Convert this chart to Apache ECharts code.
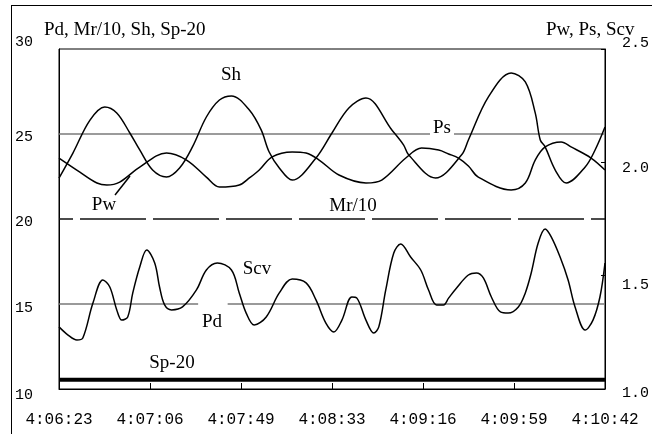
<!DOCTYPE html>
<html>
<head>
<meta charset="utf-8">
<script src="https://cdn.jsdelivr.net/npm/echarts@6/dist/echarts.min.js"></script>
<style>
  html, body { margin: 0; padding: 0; background: #fff; overflow: hidden; }
  #chart { width: 652px; height: 434px; }
  #frame {
    position: absolute; left: 11px; top: 5px; width: 641px; height: 429px;
    border-left: 1px solid #000; border-top: 1px solid #000;
    box-sizing: border-box; pointer-events: none;
  }
</style>
</head>
<body>
<div id="chart"></div>
<div id="frame"></div>
<script>
// x in seconds after 4:06:23
const tickLabels = ['4:06:23', '4:07:06', '4:07:49', '4:08:33', '4:09:16', '4:09:59', '4:10:42'];
const spanSeconds = 259;

// left axis: Sh
const shTime = [0, 6.6, 14.7, 21.7, 27.4, 33.6, 38.3, 44.4, 51.0, 57.2, 63.3, 69.9, 76.1, 81.8, 90.3, 95.9, 99.7, 104.5, 110.6, 121.9,
  129.5, 137.5, 145.6, 157.9, 163.5, 165.9, 178.6, 190.9, 194.2, 203.7, 214.5, 221.2, 225.9, 228.3, 230.6, 235.4, 240.6, 249.6, 254.3, 259];
const shValue = [22.41, 23.88, 25.82, 26.59, 26.24, 25.06, 24.06, 22.88, 22.47, 23.00, 24.24, 26.00, 27.00, 27.24, 26.41, 25.24, 23.94, 23.00, 22.29, 23.59,
  25.06, 26.53, 27.12, 25.24, 24.35, 23.76, 22.41, 23.76, 24.65, 27.18, 28.59, 28.06, 26.24, 24.65, 24.24, 22.88, 22.12, 23.06, 24.06, 25.41];

// right axis: Pw
const pwTime = [0, 9.9, 18.0, 22.7, 28.8, 38.3, 51.0, 60.5, 69.9, 76.1, 85.5, 90.3, 95.0, 101.1, 110.6, 117.2, 123.4, 132.8, 145.6, 153.1,
  164.5, 172.0, 180.1, 184.8, 189.5, 194.2, 198.9, 214.5, 221.2, 225.9, 230.6, 238.2, 242.9, 252.4, 259];
const pwValue = [2.019, 1.957, 1.909, 1.900, 1.913, 1.979, 2.041, 2.010, 1.935, 1.891, 1.900, 1.931, 1.966, 2.024, 2.046, 2.041, 2.010, 1.944, 1.909, 1.922,
  2.019, 2.063, 2.054, 2.037, 2.019, 1.984, 1.935, 1.878, 1.909, 2.010, 2.068, 2.090, 2.068, 2.019, 1.966];

// right axis: Scv
const scvTime = [0, 4.3, 8.5, 11.3, 16.1, 20.8, 24.1, 27.4, 29.8, 32.6, 35.0, 38.3, 41.6, 45.4, 47.7, 50.1, 53.4, 58.6, 65.2, 69.9,
  75.1, 81.8, 85.5, 88.8, 92.6, 98.3, 104.5, 110.6, 117.2, 121.9, 126.6, 130.4, 134.2, 138.9, 141.3, 145.6, 149.3, 151.7, 155.0, 158.8,
  162.1, 166.8, 171.6, 175.3, 179.1, 182.4, 184.8, 188.6, 194.2, 198.0, 201.3, 205.1, 209.4, 213.1, 217.9, 221.2, 224.0, 227.3, 230.6, 233.5,
  237.7, 241.5, 244.8, 249.6, 253.3, 256.6, 259];
const scvValue = [1.274, 1.238, 1.216, 1.225, 1.379, 1.481, 1.450, 1.349, 1.304, 1.318, 1.424, 1.538, 1.613, 1.556, 1.450, 1.371, 1.349, 1.362, 1.437, 1.525,
  1.556, 1.525, 1.424, 1.335, 1.282, 1.318, 1.424, 1.485, 1.468, 1.393, 1.291, 1.252, 1.304, 1.406, 1.401, 1.304, 1.247, 1.274, 1.437, 1.600,
  1.640, 1.582, 1.525, 1.437, 1.371, 1.371, 1.401, 1.446, 1.503, 1.512, 1.490, 1.406, 1.340, 1.335, 1.362, 1.424, 1.512, 1.644, 1.706, 1.671,
  1.582, 1.481, 1.362, 1.260, 1.304, 1.406, 1.556];

// flat series
const psLevel = 2.125;   // right axis
const pdLevel = 15;      // left axis
const mrLevel = 20;      // Mr/10, left axis
const spLevel = 10.55;   // Sp-20, left axis
const pdGap = [66, 80];  // seconds where the Pd line is broken

const xStep = spanSeconds / (tickLabels.length - 1);
const pairs = (xs, ys) => xs.map((x, i) => [x, ys[i]]);

const serif = '19px "Liberation Serif"';
const mono = 'Liberation Mono';

// small vertical nudges of the axis labels, as in the source figure
const leftShift = { 30: -7, 25: 3, 20: 3, 15: 4, 10: 6 };
const rightShift = { '2.5': -6, '2.0': 6, '1.5': 9, '1.0': 4 };
function padFor(d) {
  return d >= 0 ? [2 * d, 0, 0, 0] : [0, 0, -2 * d, 0];
}
const leftRich = {}, rightRich = {};
Object.keys(leftShift).forEach(k => {
  leftRich['l' + k] = { padding: padFor(leftShift[k]), fontFamily: mono, fontSize: 15, color: '#000' };
});
Object.keys(rightShift).forEach(k => {
  rightRich['r' + k.replace('.', '')] = { padding: padFor(rightShift[k]), fontFamily: mono, fontSize: 15, color: '#000' };
});

const chart = echarts.init(document.getElementById('chart'));

const lineBase = { type: 'line', showSymbol: false, symbol: 'none', silent: true, animation: false };

const option = {
  animation: false,
  grid: { left: 59, right: 45, top: 49, bottom: 45, show: true, borderColor: '#000', borderWidth: 1 },
  xAxis: {
    type: 'value', min: 0, max: spanSeconds, interval: xStep,
    axisLine: { lineStyle: { color: '#000', width: 1 } },
    axisTick: { inside: true, length: 6, lineStyle: { color: '#000' } },
    splitLine: { show: false },
    axisLabel: {
      margin: 23, fontFamily: mono, fontSize: 16, color: '#000',
      formatter: v => tickLabels[Math.round(v / xStep)] || ''
    }
  },
  yAxis: [
    {
      type: 'value', min: 10, max: 30, interval: 5, position: 'left',
      axisLine: { show: true, lineStyle: { color: '#000', width: 1 } },
      axisTick: { show: false },
      splitLine: { show: false },
      axisLabel: {
        margin: 26, fontFamily: mono, fontSize: 15, color: '#000',
        formatter: v => '{l' + v + '|' + v + '}',
        rich: leftRich
      }
    },
    {
      type: 'value', min: 1, max: 2.5, interval: 0.5, position: 'right',
      axisLine: { show: true, lineStyle: { color: '#000', width: 1 } },
      axisTick: { show: true, inside: true, length: 4, lineStyle: { color: '#000' } },
      splitLine: { show: false },
      axisLabel: {
        margin: 17, fontFamily: mono, fontSize: 15, color: '#000',
        formatter: v => { const t = v.toFixed(1); return '{r' + t.replace('.', '') + '|' + t + '}'; },
        rich: rightRich
      }
    }
  ],
  series: [
    Object.assign({}, lineBase, {
      name: 'Ps', yAxisIndex: 1, z: 1,
      data: [[0, psLevel], [spanSeconds, psLevel]],
      lineStyle: { color: '#7a7a7a', width: 1.5 }
    }),
    Object.assign({}, lineBase, {
      name: 'Pd', yAxisIndex: 0, z: 1,
      data: [[0, pdLevel], [pdGap[0], pdLevel], [(pdGap[0] + pdGap[1]) / 2, '-'], [pdGap[1], pdLevel], [spanSeconds, pdLevel]],
      lineStyle: { color: '#7a7a7a', width: 1.5 }
    }),
    Object.assign({}, lineBase, {
      name: 'Mr/10', yAxisIndex: 0, z: 1,
      data: [[0, mrLevel], [spanSeconds, mrLevel]],
      lineStyle: { color: '#111', width: 1.5, type: [66, 7], dashOffset: 52 }
    }),
    Object.assign({}, lineBase, {
      name: 'Sp-20', yAxisIndex: 0, z: 2,
      data: [[0, spLevel], [spanSeconds, spLevel]],
      lineStyle: { color: '#000', width: 4 }
    }),
    Object.assign({}, lineBase, {
      name: 'Sh', yAxisIndex: 0, z: 3, smooth: 0.35,
      data: pairs(shTime, shValue),
      lineStyle: { color: '#000', width: 1.5 }
    }),
    Object.assign({}, lineBase, {
      name: 'Pw', yAxisIndex: 1, z: 3, smooth: 0.35,
      data: pairs(pwTime, pwValue),
      lineStyle: { color: '#000', width: 1.5 }
    }),
    Object.assign({}, lineBase, {
      name: 'Scv', yAxisIndex: 1, z: 3, smooth: 0.35,
      data: pairs(scvTime, scvValue),
      lineStyle: { color: '#000', width: 1.5 }
    })
  ],
  graphic: [
    { type: 'text', x: 44, y: 30, style: { text: 'Pd, Mr/10, Sh, Sp-20', font: serif, fill: '#000', verticalAlign: 'middle' } },
    { type: 'text', x: 546, y: 30, style: { text: 'Pw, Ps, Scv', font: serif, fill: '#000', verticalAlign: 'middle' } },
    { type: 'text', x: 231, y: 75, style: { text: 'Sh', font: serif, fill: '#000', align: 'center', verticalAlign: 'middle' } },
    { type: 'text', x: 442, y: 128, z: 10, style: { text: 'Ps', font: serif, fill: '#000', align: 'center', verticalAlign: 'middle', backgroundColor: '#fff', padding: [0, 3] } },
    { type: 'text', x: 104, y: 205, style: { text: 'Pw', font: serif, fill: '#000', align: 'center', verticalAlign: 'middle' } },
    { type: 'line', shape: { x1: 115, y1: 195, x2: 130, y2: 176 }, style: { stroke: '#000', lineWidth: 1.5 } },
    { type: 'text', x: 353, y: 206, style: { text: 'Mr/10', font: serif, fill: '#000', align: 'center', verticalAlign: 'middle' } },
    { type: 'text', x: 257, y: 269, style: { text: 'Scv', font: serif, fill: '#000', align: 'center', verticalAlign: 'middle' } },
    { type: 'text', x: 212, y: 322, style: { text: 'Pd', font: serif, fill: '#000', align: 'center', verticalAlign: 'middle' } },
    { type: 'text', x: 172, y: 363, style: { text: 'Sp-20', font: serif, fill: '#000', align: 'center', verticalAlign: 'middle' } }
  ]
};

chart.setOption(option);
</script>
</body>
</html>
